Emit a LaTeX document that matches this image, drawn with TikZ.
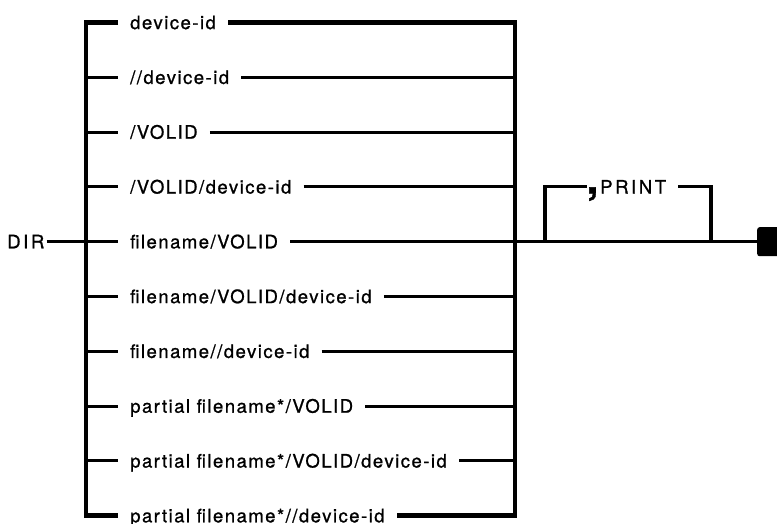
\documentclass[tikz,border=0pt]{standalone}
\usepackage{fontspec}
\setmainfont{TeX Gyre Heros}[LetterSpace=8, FakeBold=1.0]

\begin{document}
\begin{tikzpicture}[
  x=0.03cm, y=-0.03cm,
  every node/.style={font=\fontsize{15.8pt}{18pt}\selectfont,
                     text height=11.3pt, text depth=0pt},
  opt/.style={anchor=west, inner xsep=0.36cm, inner ysep=0pt},
  caps/.style={font=\fontsize{15.8pt}{18pt}\selectfont\addfontfeature{LetterSpace=14}},
  rail/.style={line width=2.6pt},
  bar/.style={line width=3.8pt, line join=miter},
  endbox/.style={fill=black, rounded corners=2pt, minimum width=0.84cm,
                 minimum height=0.87cm, inner sep=0pt}
]
\useasboundingbox (0,0) rectangle (777,523);
\node[caps, anchor=west, inner xsep=0.06cm, inner ysep=0pt] (dir) at (5,241.7) {DIR};
\coordinate (l1) at (86,22.5);
\coordinate (l2) at (86,77.3);
\coordinate (l3) at (86,132.1);
\coordinate (l4) at (86,186.9);
\coordinate (l5) at (86,241.7);
\coordinate (l6) at (86,296.5);
\coordinate (l7) at (86,351.3);
\coordinate (l8) at (86,406.1);
\coordinate (l9) at (86,460.9);
\coordinate (l10) at (86,515.7);
\coordinate (r1) at (515,22.5);
\coordinate (r2) at (515,77.3);
\coordinate (r3) at (515,132.1);
\coordinate (r4) at (515,186.9);
\coordinate (r5) at (515,241.7);
\coordinate (r6) at (515,296.5);
\coordinate (r7) at (515,351.3);
\coordinate (r8) at (515,406.1);
\coordinate (r9) at (515,460.9);
\coordinate (r10) at (515,515.7);
\node[opt] (a1) at (118,22.5) {device-id};
\node[opt] (a2) at (118,77.3) {//device-id};
\node[opt] (a3) at (118,132.1) {/VOLID};
\node[opt] (a4) at (118,186.9) {/VOLID/device-id};
\node[opt] (a5) at (118,241.7) {filename/VOLID};
\node[opt] (a6) at (118,296.5) {filename/VOLID/device-id};
\node[opt] (a7) at (118,351.3) {filename//device-id};
\node[opt] (a8) at (118,406.1) {partial filename*/VOLID};
\node[opt] (a9) at (118,460.9) {partial filename*/VOLID/device-id};
\node[opt] (a10) at (118,515.7) {partial filename*//device-id};
\draw[bar] (a1.west) -- (l1) -- (l10) -- (a10.west);
\draw[bar] (a1.east) -- (r1) -- (r10) -- (a10.east);
\draw[rail] (dir) -- (l5);
\draw[rail] (l2) -- (a2.west);
\draw[rail] (l3) -- (a3.west);
\draw[rail] (l4) -- (a4.west);
\draw[rail] (l5) -- (a5.west);
\draw[rail] (l6) -- (a6.west);
\draw[rail] (l7) -- (a7.west);
\draw[rail] (l8) -- (a8.west);
\draw[rail] (l9) -- (a9.west);
\draw[rail] (a2.east) -- (r2);
\draw[rail] (a3.east) -- (r3);
\draw[rail] (a4.east) -- (r4);
\draw[rail] (a5.east) -- (r5);
\draw[rail] (a6.east) -- (r6);
\draw[rail] (a7.east) -- (r7);
\draw[rail] (a8.east) -- (r8);
\draw[rail] (a9.east) -- (r9);
\coordinate (p1) at (545,241.7);
\coordinate (p2) at (711,241.7);
\node[endbox, anchor=west] (fin) at (757,241.7) {};
\node[anchor=west, inner sep=0pt, font=\fontsize{36pt}{36pt}\selectfont\bfseries]
  (comma) at (586.5,186.9) {,};
\node[opt, caps] (print) at (588,186.9) {PRINT};
\draw[rail] (r5) -- (fin);
\draw[rail] (p1) |- (comma.west);
\draw[rail] (print.east) -| (p2);
\end{tikzpicture}
\end{document}
